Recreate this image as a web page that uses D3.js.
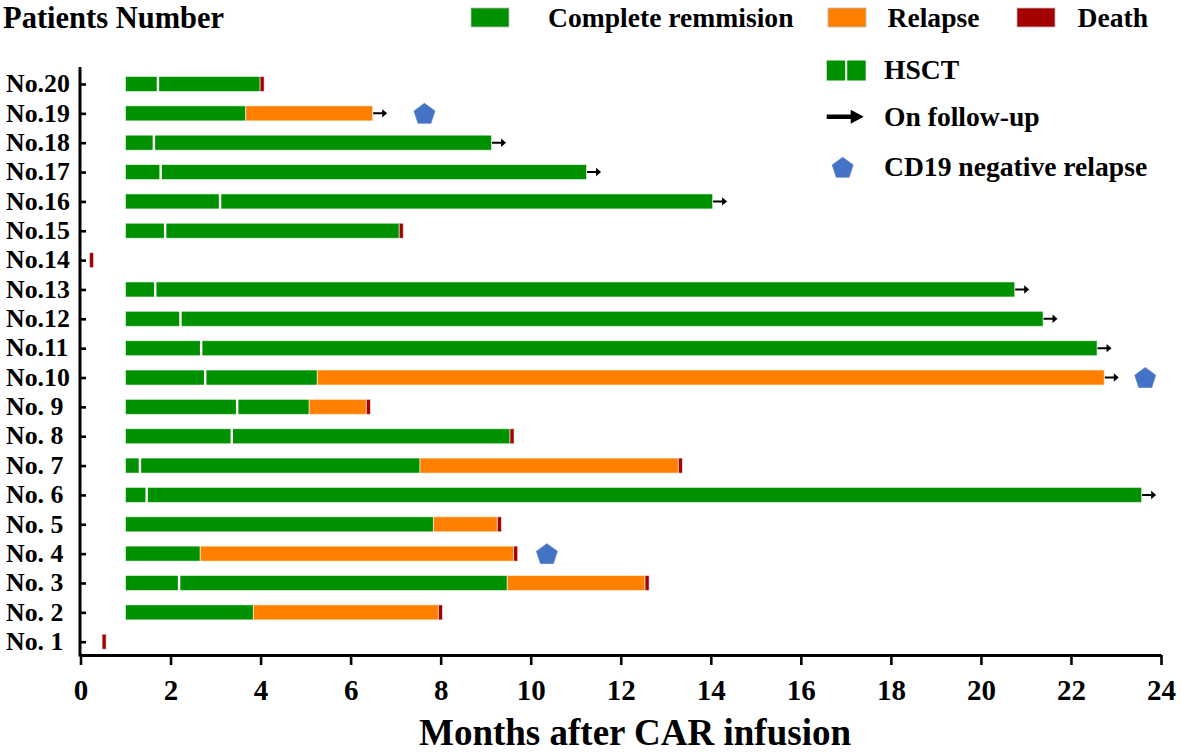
<!DOCTYPE html>
<html><head><meta charset="utf-8">
<script src="https://cdn.jsdelivr.net/npm/d3@7"></script>
<style>
body{margin:0;background:#fff}
svg{display:block}
svg text{font-family:"Liberation Serif","Times New Roman",serif !important;font-weight:bold;fill:#000}
</style>
</head><body>
<svg id="c" width="1181" height="753"></svg>
<script>
// ---------- data (months after CAR infusion) ----------
const patients = ["No. 1","No. 2","No. 3","No. 4","No. 5","No. 6","No. 7","No. 8","No. 9","No.10",
                  "No.11","No.12","No.13","No.14","No.15","No.16","No.17","No.18","No.19","No.20"];
const crStart    = [null, 1, 1, 1, 1, 1, 1, 1, 1, 1, 1, 1, 1, null, 1, 1, 1, 1, 1, 1];
const crEnd      = [null, 3.84, 9.48, 2.66, 7.84, 23.57, 7.54, 9.54, 5.08, 5.26, 22.58, 21.38, 20.75, null, 7.08, 14.04, 11.24, 9.13, 3.67, 3.99];
const relapseEnd = [null, 7.95, 12.54, 9.62, 9.26, null, 13.28, null, 6.35, 22.74, null, null, null, null, null, null, null, null, 6.49, null];
const deathAt    = [0.48, 7.95, 12.54, 9.62, 9.26, null, 13.28, 9.54, 6.35, null, null, null, null, 0.20, 7.08, null, null, null, null, 3.99];
const hsctAt     = [null, null, 2.19, null, null, 1.47, 1.32, 3.36, 3.48, 2.77, 2.68, 2.22, 1.66, null, 1.88, 3.10, 1.78, 1.63, null, 1.72];
const followUp   = [false,false,false,false,false,true,false,false,false,true,true,true,true,false,false,true,true,true,true,false];
const cd19Neg    = [null, null, null, 10.36, null, null, null, null, null, 23.65, null, null, null, null, null, null, null, null, 7.64, null];
const deathSpan  = 0.09;
const xTicks     = [0,2,4,6,8,10,12,14,16,18,20,22,24];

const legendItems = ["Complete remmision","Relapse","Death","HSCT","On follow-up","CD19 negative relapse"];

const colors = {cr:"#009100", relapse:"#ff8000", death:"#a50000", cd19:"#4472c4"};
const serif = '"Liberation Serif","Times New Roman",serif';

// ---------- scales ----------
const svg = d3.select("#c");
const x = d3.scaleLinear().domain([0,24]).range([80.5,1161]);
const y = d3.scalePoint().domain([...patients].reverse()).range([84,641.7]);
const barH = 15;
const axisY = 655;

// ---------- segments ----------
const segs = [];
patients.forEach((p,i)=>{
  if (crStart[i]!=null) segs.push({p, x0:crStart[i], x1:crEnd[i], t:"cr"});
  if (relapseEnd[i]!=null) segs.push({p, x0:crEnd[i], x1:relapseEnd[i], t:"relapse"});
  if (deathAt[i]!=null) segs.push({p, x0:deathAt[i], x1:deathAt[i]+deathSpan, t:"death"});
});

svg.append("g").selectAll("rect").data(segs).join("rect")
  .attr("x", d=>x(d.x0)).attr("width", d=>x(d.x1)-x(d.x0))
  .attr("y", d=>y(d.p)-barH/2).attr("height", barH)
  .attr("fill", d=>colors[d.t])
  .attr("stroke", "rgba(255,255,255,0.55)").attr("stroke-width",1);

// HSCT separators
const hs = patients.map((p,i)=>({p, v:hsctAt[i]})).filter(d=>d.v!=null);
svg.append("g").selectAll("rect").data(hs).join("rect")
  .attr("x", d=>x(d.v)-1.2).attr("width", 2.4)
  .attr("y", d=>y(d.p)-barH/2-0.5).attr("height", barH+1)
  .attr("fill","#fff");

// follow-up arrows
const arrowPath = "M0,-1 H9 V-4.2 L14,0 L9,4.2 V1 H0 Z";
const fu = patients.map((p,i)=>({p, end: relapseEnd[i]!=null ? relapseEnd[i] : crEnd[i], f:followUp[i]})).filter(d=>d.f);
svg.append("g").selectAll("path").data(fu).join("path")
  .attr("transform", d=>`translate(${x(d.end)+0.5},${y(d.p)})`)
  .attr("d", arrowPath).attr("fill","#000");

// pentagon generator
function pentagon(R){
  const pts = d3.range(5).map(k=>{const a=-Math.PI/2 + k*2*Math.PI/5; return [R*Math.cos(a), R*Math.sin(a)];});
  return d3.line()(pts)+"Z";
}
const cd = patients.map((p,i)=>({p, v:cd19Neg[i]})).filter(d=>d.v!=null);
svg.append("g").selectAll("path").data(cd).join("path")
  .attr("transform", d=>`translate(${x(d.v)},${y(d.p)+1})`)
  .attr("d", pentagon(11)).attr("fill",colors.cd19).attr("stroke","#5a83cc").attr("stroke-width",0.8);

// ---------- axes ----------
const gx = svg.append("g").attr("transform",`translate(0,${axisY})`)
  .call(d3.axisBottom(x).tickValues(xTicks).tickSize(10).tickSizeOuter(0).tickPadding(14.5));
gx.attr("font-family", serif).attr("font-size", null);
gx.select(".domain").attr("stroke","#000").attr("stroke-width",3);
gx.selectAll(".tick line").attr("stroke","#000").attr("stroke-width",2.6);
gx.selectAll(".tick text").style("font-size","29px").style("font-family",serif).style("font-weight","bold").attr("fill","#000");

const gy = svg.append("g").attr("transform",`translate(80,0)`)
  .call(d3.axisLeft(y).tickSize(-6).tickSizeOuter(0));
gy.attr("font-family", serif).attr("font-size", null);
gy.select(".domain").remove();
gy.selectAll(".tick line").attr("stroke","#000").attr("stroke-width",2.6);
gy.selectAll(".tick text").style("font-size","25.8px").style("font-family",serif).style("font-weight","bold").attr("fill","#000")
  .attr("text-anchor","start").attr("x",-74).attr("dy","0.3em");
gy.append("line").attr("x1",0).attr("x2",0).attr("y1",67).attr("y2",axisY+1.5)
  .attr("stroke","#000").attr("stroke-width",3);

// titles
svg.append("text").attr("x",3).attr("y",27.5).style("font-size","30.5px").text("Patients Number");
svg.append("text").attr("x",635).attr("y",745).attr("text-anchor","middle").style("font-size","37px").text("Months after CAR infusion");

// ---------- legend ----------
const lg = svg.append("g");
const lfs = "27.6px";
const boxes = [{x:471, c:colors.cr, tx:548, t:legendItems[0]},
               {x:828, c:colors.relapse, tx:887.5, t:legendItems[1]},
               {x:1017, c:colors.death, tx:1077.5, t:legendItems[2]}];
boxes.forEach(b=>{
  lg.append("rect").attr("x",b.x).attr("y",8).attr("width",38).attr("height",19)
    .attr("fill",b.c).attr("stroke","#bbb").attr("stroke-width",0.8);
  lg.append("text").attr("x",b.tx).attr("y",26.5).style("font-size",lfs).text(b.t);
});
[826.7, 847.2].forEach(xx=>{
  lg.append("rect").attr("x",xx).attr("y",60.5).attr("width",18.5).attr("height",20).attr("fill",colors.cr);
});
lg.append("text").attr("x",884).attr("y",78.5).style("font-size",lfs).text(legendItems[3]);
lg.append("path").attr("transform","translate(826.7,116.7)")
  .attr("d","M0,-2.2 H24 V-7 L37,0 L24,7 V2.2 H0 Z").attr("fill","#000");
lg.append("text").attr("x",884).attr("y",125.5).style("font-size",lfs).text(legendItems[4]);
lg.append("path").attr("transform","translate(842.7,168.3)").attr("d",pentagon(11))
  .attr("fill",colors.cd19).attr("stroke","#5a83cc").attr("stroke-width",0.8);
lg.append("text").attr("x",884).attr("y",175.5).style("font-size",lfs).text(legendItems[5]);
</script>
</body></html>
